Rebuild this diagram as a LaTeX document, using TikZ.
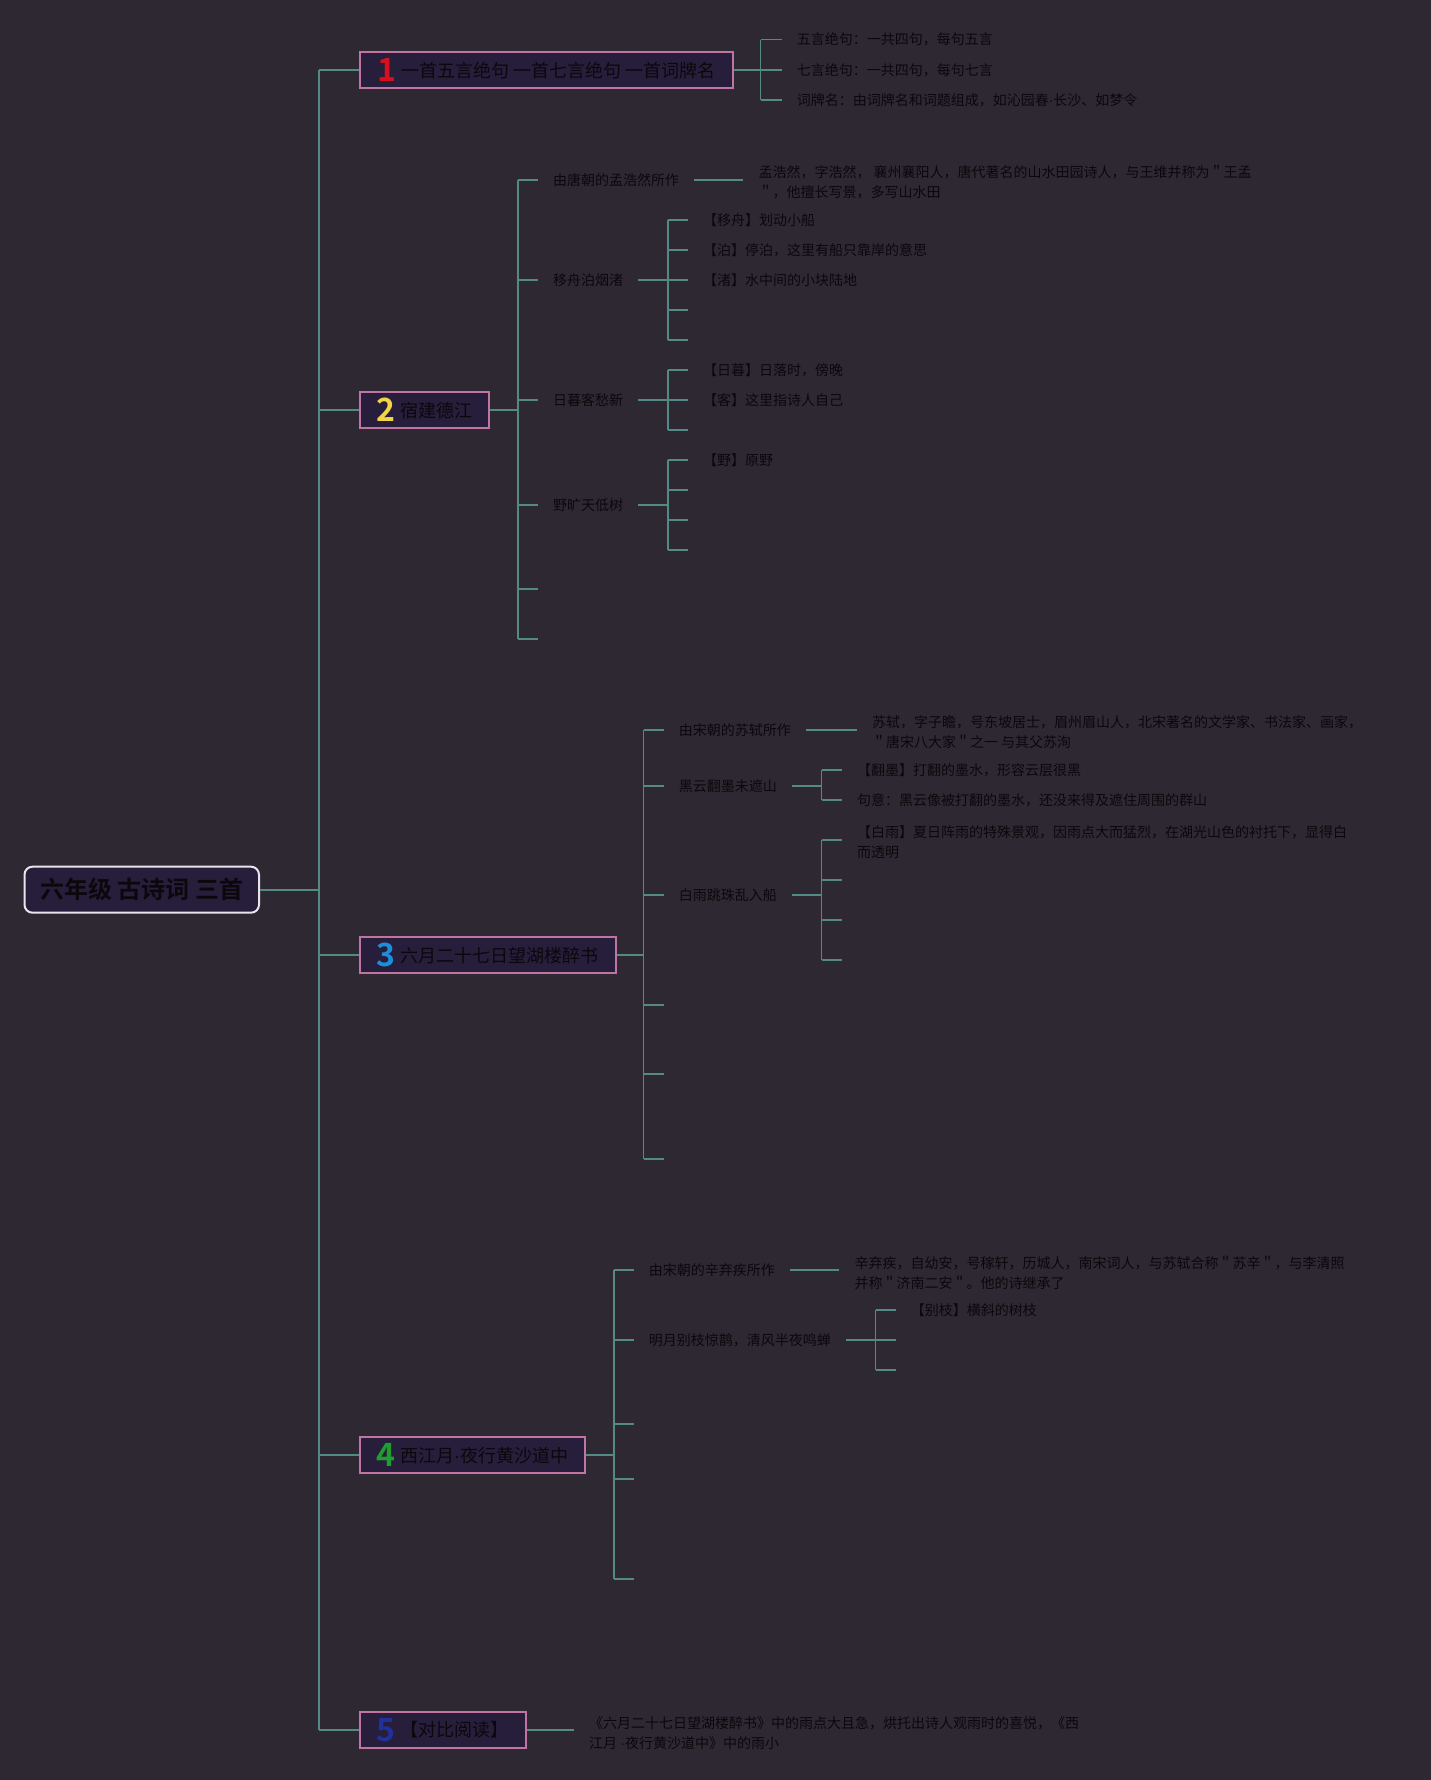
\documentclass[tikz,border=0pt]{standalone}
\usepackage{fontspec}
\setmainfont{Noto Sans CJK SC}[BoldFont={Noto Sans CJK SC Bold}]
\newfontfamily\latinf{Liberation Sans}
\definecolor{bg}{HTML}{2E2832}
\definecolor{linec}{HTML}{548A86}
\definecolor{txt}{HTML}{0A080C}
\definecolor{boxf}{HTML}{271E3C}
\definecolor{pinkb}{HTML}{C174A2}
\definecolor{rootb}{HTML}{E6E4EC}
\definecolor{nA}{HTML}{D8101E}
\definecolor{nB}{HTML}{F2D445}
\definecolor{nC}{HTML}{1C8FDC}
\definecolor{nD}{HTML}{1E9E2C}
\definecolor{nE}{HTML}{22309C}
\newcommand{\topicnum}[2]{\raisebox{-4.5pt}{\fontsize{32}{32}\selectfont\bfseries\color{#1}#2}\hspace{5pt}}
\newcommand{\mdot}{{\latinf ·}}
\begin{document}
\begin{tikzpicture}[x=1pt,y=-1pt,
  conn/.style={draw=linec, line width=1.6pt},
  lvl/.style={anchor=west, inner xsep=15pt, inner ysep=2pt, text=txt, font=\fontsize{14}{20}\selectfont},
  leaf/.style={lvl, align=left},
  topic/.style={draw=pinkb, line width=2pt, fill=boxf, minimum height=36.6pt, anchor=west, inner xsep=0pt, inner ysep=0pt, text=txt, font=\fontsize{18}{22}\selectfont},
  rootbox/.style={draw=rootb, line width=2pt, fill=boxf, rounded corners=8pt, minimum height=46pt, inner xsep=0pt, text=txt, font=\fontsize{24}{28}\selectfont\bfseries}
]
\fill[bg] (0,0) rectangle (1431,1780);
\useasboundingbox (0,0) rectangle (1431,1780);

% spine coordinates
\coordinate (s0) at (319,0);
\coordinate (s1) at (760.6,0);
\coordinate (s2) at (518,0);
\coordinate (s22) at (668,0);
\coordinate (s3) at (643.6,0);
\coordinate (s32) at (821.5,0);
\coordinate (s4) at (613.9,0);
\coordinate (s42) at (875.6,0);

% root
\node[rootbox, minimum width=234.5pt] (root) at (141.75,889.7) {六年级 古诗词 三首};

% topics
\node[topic, minimum width=373.1pt] (b1) at (358.6,70) {\topicnum{nA}{1}一首五言绝句 一首七言绝句 一首词牌名};
\node[topic, minimum width=129.4pt] (b2) at (358.6,410) {\topicnum{nB}{2}宿建德江};
\node[topic, minimum width=256.2pt] (b3) at (358.6,955) {\topicnum{nC}{3}六月二十七日望湖楼醉书};
\node[topic, minimum width=225.4pt] (b4) at (358.6,1455) {\topicnum{nD}{4}西江月\mdot 夜行黄沙道中};
\node[topic, minimum width=165.9pt] (b5) at (358.6,1730) {\topicnum{nE}{5}【对比阅读】};

\draw[conn] (root.east) -- (root.east -| s0);
\draw[conn] (b1.west -| s0) -- (b5.west -| s0);
\foreach \b in {b1,b2,b3,b4,b5} \draw[conn] (\b.west -| s0) -- (\b.west);

% ---- topic 1
\node[lvl] (c11) at (781.6,39.5) {五言绝句：一共四句，每句五言};
\node[lvl] (c12) at (781.6,70) {七言绝句：一共四句，每句七言};
\node[lvl] (c13) at (781.6,100) {词牌名：由词牌名和词题组成，如沁园春\mdot 长沙、如梦令};
\draw[conn] (b1.east) -- (b1.east -| s1);
\draw[conn] (c11.west -| s1) -- (c13.west -| s1);
\foreach \c in {c11,c12,c13} \draw[conn] (\c.west -| s1) -- (\c.west);

% ---- topic 2
\node[lvl] (c21) at (538,180) {由唐朝的孟浩然所作};
\node[lvl] (c22) at (538,280) {移舟泊烟渚};
\node[lvl] (c23) at (538,400) {日暮客愁新};
\node[lvl] (c24) at (538,505) {野旷天低树};
\coordinate (e25) at (538,589);
\coordinate (e26) at (538,639);
\draw[conn] (b2.east) -- (b2.east -| s2);
\draw[conn] (c21.west -| s2) -- (e26 -| s2);
\foreach \c in {c21.west,c22.west,c23.west,c24.west,e25,e26} \draw[conn] (\c -| s2) -- (\c);

\node[leaf] (l21) at (743.4,182.5) {孟浩然，字浩然， 襄州襄阳人，唐代著名的山水田园诗人，与王维并称为＂王孟\\＂，他擅长写景，多写山水田};
\draw[conn] (c21.east) -- (c21.east -| l21.west);

\node[lvl] (l221) at (688,220) {【移舟】划动小船};
\node[lvl] (l222) at (688,250) {【泊】停泊，这里有船只靠岸的意思};
\node[lvl] (l223) at (688,280) {【渚】水中间的小块陆地};
\coordinate (e224) at (688,310);
\coordinate (e225) at (688,340);
\draw[conn] (c22.east) -- (c22.east -| s22);
\draw[conn] (l221.west -| s22) -- (e225 -| s22);
\foreach \c in {l221.west,l222.west,l223.west,e224,e225} \draw[conn] (\c -| s22) -- (\c);

\node[lvl] (l231) at (688,370) {【日暮】日落时，傍晚};
\node[lvl] (l232) at (688,400) {【客】这里指诗人自己};
\coordinate (e233) at (688,430);
\draw[conn] (c23.east) -- (c23.east -| s22);
\draw[conn] (l231.west -| s22) -- (e233 -| s22);
\foreach \c in {l231.west,l232.west,e233} \draw[conn] (\c -| s22) -- (\c);

\node[lvl] (l241) at (688,460) {【野】原野};
\coordinate (e242) at (688,490);
\coordinate (e243) at (688,520);
\coordinate (e244) at (688,550);
\draw[conn] (c24.east) -- (c24.east -| s22);
\draw[conn] (l241.west -| s22) -- (e244 -| s22);
\foreach \c in {l241.west,e242,e243,e244} \draw[conn] (\c -| s22) -- (\c);

% ---- topic 3
\node[lvl] (c31) at (663.6,730) {由宋朝的苏轼所作};
\node[lvl] (c32) at (663.6,786) {黑云翻墨未遮山};
\node[lvl] (c33) at (663.6,895) {白雨跳珠乱入船};
\coordinate (e34) at (663.6,1005);
\coordinate (e35) at (663.6,1074);
\coordinate (e36) at (663.6,1159);
\draw[conn] (b3.east) -- (b3.east -| s3);
\draw[conn] (c31.west -| s3) -- (e36 -| s3);
\foreach \c in {c31.west,c32.west,c33.west,e34,e35,e36} \draw[conn] (\c -| s3) -- (\c);

\node[leaf] (l31) at (856.9,731.7) {苏轼，字子瞻，号东坡居士，眉州眉山人，北宋著名的文学家、书法家、画家，\\＂唐宋八大家＂之一 与其父苏洵};
\draw[conn] (c31.east) -- (c31.east -| l31.west);

\node[lvl] (l321) at (842,770) {【翻墨】打翻的墨水，形容云层很黑};
\node[lvl] (l322) at (842,800) {句意：黑云像被打翻的墨水，还没来得及遮住周围的群山};
\draw[conn] (c32.east) -- (c32.east -| s32);
\draw[conn] (l321.west -| s32) -- (l322.west -| s32);
\foreach \c in {l321.west,l322.west} \draw[conn] (\c -| s32) -- (\c);

\node[leaf] (l331) at (842,841.7) {【白雨】夏日阵雨的特殊景观，因雨点大而猛烈，在湖光山色的衬托下，显得白\\而透明};
\coordinate (e331) at (842,840);
\coordinate (e332) at (842,880);
\coordinate (e333) at (842,920);
\coordinate (e334) at (842,960);
\draw[conn] (c33.east) -- (c33.east -| s32);
\draw[conn] (e331 -| s32) -- (e334 -| s32);
\foreach \c in {e331,e332,e333,e334} \draw[conn] (\c -| s32) -- (\c);

% ---- topic 4
\node[lvl] (c41) at (633.6,1270) {由宋朝的辛弃疾所作};
\node[lvl] (c42) at (633.6,1340) {明月别枝惊鹊，清风半夜鸣蝉};
\coordinate (e43) at (633.6,1424);
\coordinate (e44) at (633.6,1479);
\coordinate (e45) at (633.6,1579);
\draw[conn] (b4.east) -- (b4.east -| s4);
\draw[conn] (c41.west -| s4) -- (e45 -| s4);
\foreach \c in {c41.west,c42.west,e43,e44,e45} \draw[conn] (\c -| s4) -- (\c);

\node[leaf] (l41) at (839.4,1272.7) {辛弃疾，自幼安，号稼轩，历城人，南宋词人，与苏轼合称＂苏辛＂，与李清照\\并称＂济南二安＂。他的诗继承了};
\draw[conn] (c41.east) -- (c41.east -| l41.west);

\node[lvl] (l421) at (895.6,1310) {【别枝】横斜的树枝};
\coordinate (e422) at (895.6,1340);
\coordinate (e423) at (895.6,1370);
\draw[conn] (c42.east) -- (c42.east -| s42);
\draw[conn] (l421.west -| s42) -- (e423 -| s42);
\foreach \c in {l421.west,e422,e423} \draw[conn] (\c -| s42) -- (\c);

% ---- topic 5
\node[leaf] (l51) at (574,1732.7) {《六月二十七日望湖楼醉书》中的雨点大且急，烘托出诗人观雨时的喜悦，《西\\江月 \mdot 夜行黄沙道中》中的雨小};
\draw[conn] (b5.east) -- (b5.east -| l51.west);
\end{tikzpicture}
\end{document}
